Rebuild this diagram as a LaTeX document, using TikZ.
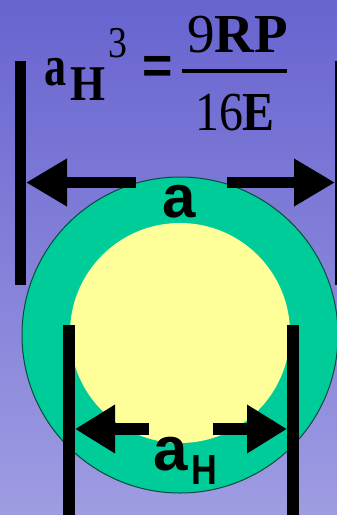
\documentclass[tikz,border=0pt]{standalone}
\usepackage{fontspec}
\setmainfont{Liberation Serif}
\newfontfamily\labfont{Liberation Sans}
\usetikzlibrary{arrows.meta}
\definecolor{bgtop}{HTML}{6864D0}
\definecolor{bgbot}{HTML}{9E9CE2}
\definecolor{shellc}{HTML}{00CC99}
\definecolor{corec}{HTML}{FFFF99}
\definecolor{rimc}{HTML}{0B4A3A}
\tikzset{
  dimbar/.style  = {draw=black, line width=11pt},
  dimbarb/.style = {draw=black, line width=12pt},
  dimarr/.style  = {draw=black, line width=11pt,
                    -{Triangle[length=41pt,width=45pt]}},
  dimarrb/.style = {draw=black, line width=12pt,
                    -{Triangle[length=40pt,width=46pt]}},
  eqtxt/.style   = {inner sep=0pt, anchor=base, text=black},
  labtxt/.style  = {inner sep=0pt, anchor=base, text=black},
}
\newcommand{\setfs}[1]{\fontsize{#1}{#1}\selectfont}

\begin{document}
\begin{tikzpicture}[x=1pt,y=-1pt]
  \useasboundingbox (0,0) rectangle (337,515);
  \shade[top color=bgtop, bottom color=bgbot] (0,0) rectangle (337,515);
  % particle: shell and hard core
  \filldraw[fill=shellc, draw=rimc, line width=1pt] (180,335) circle[radius=158];
  \fill[corec] (180,333) circle[radius=110];
  % formula
  \node[eqtxt, font=\setfs{58}\bfseries, xscale=0.76] (ea) at (56,85) {a};
  \node[eqtxt, font=\setfs{50}\bfseries, xscale=0.9] (eh) at (88.5,100) {H};
  \node[eqtxt, font=\setfs{44}, xscale=0.86] (e3) at (117.5,57) {3};
  \node[eqtxt, anchor=center, font=\labfont\bfseries\setfs{52}] (eeq) at (158,70) {=};
  \node[eqtxt, font=\setfs{55}] (enum) at (237.5,52) {9\textbf{RP}};
  \node[eqtxt, font=\setfs{55}, xscale=0.87] (eden) at (235,130) {16\textbf{E}};
  \draw[black, line width=4pt] (182,70.5) -- (287,70.5);
  % outer diameter a
  \coordinate (ltop) at (20.5,61);
  \coordinate (lbot) at (20.5,285);
  \coordinate (rtop) at (340.5,61);
  \coordinate (rbot) at (340.5,285);
  \draw[dimbar] (ltop) -- (lbot);
  \draw[dimbar] (rtop) -- (rbot);
  \coordinate (atipl) at (26,182.5);
  \coordinate (atipr) at (335,182.5);
  \coordinate (ashl) at (136,182.5);
  \coordinate (ashr) at (227,182.5);
  \draw[dimarr] (ashl) -- (atipl);
  \draw[dimarr] (ashr) -- (atipr);
  \node[labtxt, font=\labfont\bfseries\setfs{60}] (alab) at (179,217) {a};
  % core diameter a_H
  \coordinate (bltop) at (69,325);
  \coordinate (blbot) at (69,520);
  \coordinate (brtop) at (293,325);
  \coordinate (brbot) at (293,520);
  \draw[dimbarb] (bltop) -- (blbot);
  \draw[dimbarb] (brtop) -- (brbot);
  \coordinate (htipl) at (75,429);
  \coordinate (htipr) at (287,429);
  \coordinate (hshl) at (149,429);
  \coordinate (hshr) at (213,429);
  \draw[dimarrb] (hshl) -- (htipl);
  \draw[dimarrb] (hshr) -- (htipr);
  \node[labtxt, font=\labfont\bfseries\setfs{62}] (ahlab) at (171,470) {a};
  \node[labtxt, font=\labfont\bfseries\setfs{42}, xscale=0.85] (ahsub) at (204,484) {H};
\end{tikzpicture}
\end{document}
